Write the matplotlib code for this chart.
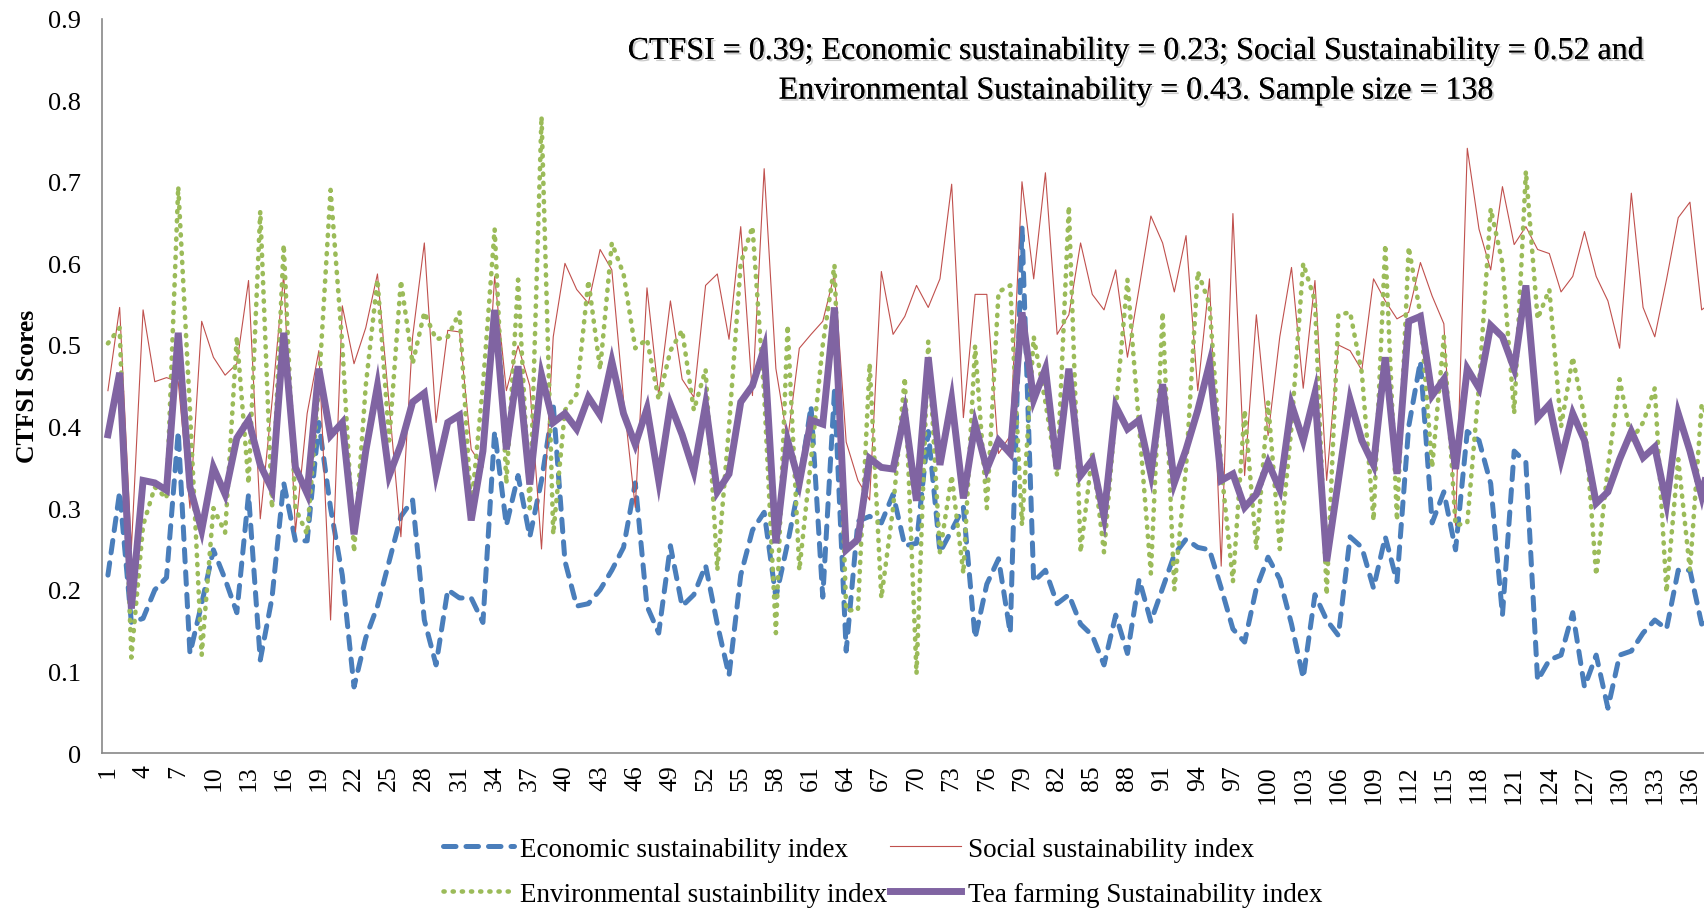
import matplotlib
matplotlib.use("Agg")
import matplotlib.pyplot as plt
import matplotlib.patheffects as pe
import numpy as np

plt.rcParams['font.family'] = ['Liberation Serif', 'DejaVu Serif']

# CTFSI component scores for each of the 138 sampled tea farms
economic = [0.218, 0.32, 0.16, 0.165, 0.2, 0.215, 0.394, 0.122, 0.183, 0.249,
            0.213, 0.172, 0.317, 0.114, 0.19, 0.331, 0.26, 0.26, 0.405, 0.3,
            0.218, 0.081, 0.141, 0.18, 0.235, 0.29, 0.31, 0.163, 0.108, 0.2,
            0.19, 0.19, 0.16, 0.394, 0.279, 0.34, 0.265, 0.334, 0.427, 0.235,
            0.18, 0.183, 0.2, 0.224, 0.252, 0.331, 0.18, 0.147, 0.254, 0.18,
            0.194, 0.23, 0.158, 0.095, 0.218, 0.273, 0.295, 0.191, 0.257, 0.33,
            0.425, 0.191, 0.444, 0.125, 0.284, 0.29, 0.282, 0.317, 0.254, 0.257,
            0.394, 0.246, 0.273, 0.301, 0.141, 0.207, 0.238, 0.147, 0.645, 0.21,
            0.224, 0.183, 0.194, 0.158, 0.144, 0.108, 0.169, 0.122, 0.213, 0.161,
            0.202, 0.243, 0.262, 0.252, 0.249, 0.202, 0.152, 0.136, 0.202, 0.24,
            0.213, 0.158, 0.092, 0.194, 0.163, 0.144, 0.265, 0.252, 0.202, 0.265,
            0.21, 0.4, 0.48, 0.282, 0.32, 0.249, 0.394, 0.383, 0.33, 0.169,
            0.37, 0.356, 0.089, 0.114, 0.12, 0.172, 0.081, 0.12, 0.055, 0.12,
            0.125, 0.147, 0.163, 0.152, 0.224, 0.224, 0.158, 0.17]

social = [0.444, 0.546, 0.25, 0.543, 0.455, 0.46, 0.455, 0.3, 0.529, 0.485,
          0.463, 0.477, 0.579, 0.287, 0.43, 0.587, 0.271, 0.416, 0.493, 0.163,
          0.548, 0.477, 0.521, 0.587, 0.427, 0.265, 0.51, 0.625, 0.405, 0.518,
          0.516, 0.372, 0.35, 0.584, 0.444, 0.499, 0.45, 0.25, 0.51, 0.6,
          0.568, 0.551, 0.617, 0.592, 0.433, 0.301, 0.57, 0.438, 0.554, 0.458,
          0.436, 0.573, 0.587, 0.507, 0.645, 0.438, 0.716, 0.471, 0.383, 0.496,
          0.513, 0.529, 0.587, 0.381, 0.334, 0.31, 0.59, 0.513, 0.535, 0.573,
          0.546, 0.581, 0.697, 0.411, 0.562, 0.562, 0.367, 0.389, 0.7, 0.581,
          0.711, 0.513, 0.537, 0.625, 0.562, 0.543, 0.592, 0.485, 0.57, 0.658,
          0.625, 0.565, 0.634, 0.444, 0.581, 0.229, 0.661, 0.34, 0.537, 0.389,
          0.51, 0.595, 0.447, 0.579, 0.334, 0.5, 0.493, 0.469, 0.581, 0.554,
          0.532, 0.54, 0.601, 0.56, 0.526, 0.279, 0.741, 0.642, 0.592, 0.694,
          0.623, 0.645, 0.617, 0.612, 0.565, 0.584, 0.639, 0.584, 0.554, 0.496,
          0.686, 0.546, 0.51, 0.58, 0.656, 0.675, 0.543, 0.554]

environmental = [0.502, 0.521, 0.117, 0.279, 0.326, 0.312, 0.694, 0.42, 0.12, 0.3,
                 0.27, 0.51, 0.33, 0.664, 0.3, 0.623, 0.3, 0.268, 0.45, 0.69,
                 0.5, 0.246, 0.45, 0.58, 0.383, 0.579, 0.477, 0.54, 0.507, 0.51,
                 0.54, 0.3, 0.45, 0.642, 0.33, 0.58, 0.3, 0.78, 0.268, 0.42,
                 0.44, 0.579, 0.47, 0.625, 0.587, 0.496, 0.507, 0.433, 0.493, 0.518,
                 0.42, 0.47, 0.224, 0.4, 0.6, 0.645, 0.44, 0.147, 0.524, 0.224,
                 0.36, 0.5, 0.598, 0.175, 0.175, 0.477, 0.19, 0.3, 0.46, 0.097,
                 0.504, 0.246, 0.34, 0.22, 0.499, 0.3, 0.565, 0.573, 0.279, 0.51,
                 0.43, 0.34, 0.67, 0.246, 0.367, 0.246, 0.42, 0.58, 0.4, 0.22,
                 0.54, 0.2, 0.35, 0.59, 0.55, 0.35, 0.21, 0.42, 0.25, 0.43,
                 0.25, 0.4, 0.6, 0.554, 0.194, 0.537, 0.54, 0.466, 0.285, 0.623,
                 0.285, 0.62, 0.537, 0.35, 0.51, 0.279, 0.282, 0.45, 0.667, 0.6,
                 0.416, 0.713, 0.532, 0.568, 0.4, 0.485, 0.411, 0.218, 0.35, 0.458,
                 0.383, 0.405, 0.447, 0.197, 0.36, 0.224, 0.427, 0.4]

tea = [0.39, 0.466, 0.177, 0.334, 0.331, 0.322, 0.515, 0.326, 0.273, 0.35,
       0.317, 0.386, 0.408, 0.353, 0.323, 0.515, 0.35, 0.318, 0.471, 0.389,
       0.405, 0.268, 0.37, 0.45, 0.34, 0.378, 0.43, 0.441, 0.342, 0.405,
       0.414, 0.285, 0.37, 0.543, 0.372, 0.474, 0.329, 0.463, 0.405, 0.416,
       0.397, 0.436, 0.414, 0.48, 0.416, 0.378, 0.422, 0.334, 0.427, 0.39,
       0.345, 0.427, 0.32, 0.342, 0.43, 0.45, 0.496, 0.257, 0.383, 0.331,
       0.408, 0.403, 0.546, 0.249, 0.262, 0.361, 0.35, 0.348, 0.416, 0.309,
       0.485, 0.353, 0.433, 0.312, 0.403, 0.348, 0.383, 0.367, 0.54, 0.433,
       0.471, 0.348, 0.471, 0.34, 0.359, 0.29, 0.425, 0.397, 0.408, 0.342,
       0.452, 0.331, 0.372, 0.42, 0.477, 0.334, 0.342, 0.301, 0.317, 0.356,
       0.323, 0.427, 0.383, 0.441, 0.235, 0.334, 0.433, 0.383, 0.353, 0.485,
       0.342, 0.529, 0.535, 0.438, 0.458, 0.348, 0.471, 0.447, 0.524, 0.51,
       0.471, 0.573, 0.411, 0.427, 0.359, 0.416, 0.383, 0.306, 0.32, 0.36,
       0.394, 0.362, 0.375, 0.306, 0.416, 0.37, 0.315, 0.38]

farms = np.arange(1, len(tea) + 1)
tick_farms = farms[::3]
y_ticks = [0, 0.1, 0.2, 0.3, 0.4, 0.5, 0.6, 0.7, 0.8, 0.9]
y_labels = ['0', '0.1', '0.2', '0.3', '0.4', '0.5', '0.6', '0.7', '0.8', '0.9']

fig = plt.figure(figsize=(17.04, 9.12), dpi=100)
ax = fig.add_axes([0.0599, 0.1732, 0.9401, 0.8054])

l1, = ax.plot(farms, economic, color='#4a7ebb', lw=3.6, linestyle=(0, (2.5, 2.0)),
              dash_capstyle='round', label='Economic sustainability index', zorder=2)
l2, = ax.plot(farms, social, color='#c0504d', lw=0.8,
              label='Social sustainability index', zorder=3)
l3, = ax.plot(farms, environmental, color='#9bbb59', lw=3.3, linestyle=(0, (0.25, 1.75)),
              dash_capstyle='round', label='Environmental sustainbility index', zorder=4)
l4, = ax.plot(farms, tea, color='#8064a2', lw=5, solid_joinstyle='miter',
              label='Tea farming Sustainability index', zorder=5)

ax.set_xlim(0.5, 137.2)
ax.set_ylim(0, 0.9)
ax.set_yticks(y_ticks)
ax.set_yticklabels(y_labels, fontsize=19)
ax.set_xticks(tick_farms)
ax.set_xticklabels([str(f) for f in tick_farms], rotation=90, fontsize=18.5)
ax.tick_params(axis='both', length=0)
ax.tick_params(axis='y', pad=15)
ax.tick_params(axis='x', pad=8)
for s in ['top', 'right']:
    ax.spines[s].set_visible(False)
for s in ['left', 'bottom']:
    ax.spines[s].set_color('#888888')
    ax.spines[s].set_linewidth(1.2)

fig.text(0.016, 0.576, 'CTFSI Scores', rotation=90, fontsize=18.5, fontweight='bold',
         ha='center', va='center')

shadow = [pe.withSimplePatchShadow(offset=(1.5, -1.5), shadow_rgbFace='#999999', alpha=0.5),
          pe.Normal()]
fig.text(0.667, 0.921,
         'CTFSI = 0.39; Economic sustainability = 0.23; Social Sustainability = 0.52 and\n'
         'Environmental Sustainability = 0.43. Sample size = 138',
         fontsize=23, ha='center', va='center', multialignment='center',
         linespacing=1.45, path_effects=shadow)

fig.legend(handles=[l1, l3, l2, l4], ncol=2, loc='center',
           bbox_to_anchor=(0.518, 0.043), frameon=False, fontsize=19.5,
           handlelength=2.6, handletextpad=0.25, columnspacing=0.1,
           labelspacing=0.75, borderpad=0.2)

fig.savefig('out.png', dpi=100)
